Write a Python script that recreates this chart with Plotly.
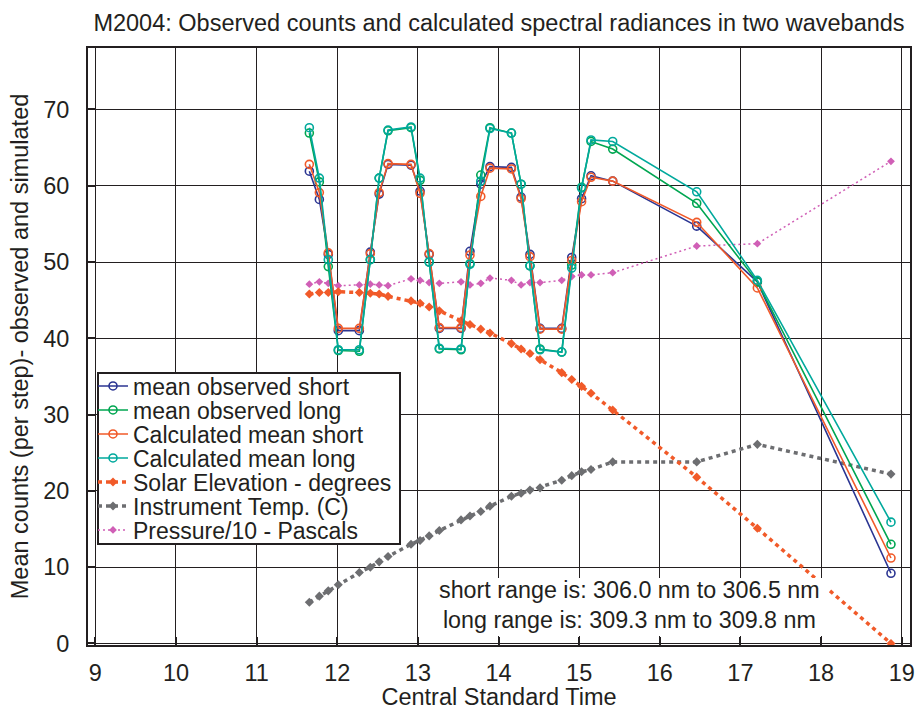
import plotly.graph_objects as go

# ---- data ----
time_h = [11.654, 11.778, 11.889, 12.013, 12.274, 12.41, 12.52, 12.63, 12.915, 13.027,
          13.14, 13.266, 13.535, 13.646, 13.78, 13.894, 14.16, 14.28, 14.39, 14.515,
          14.784, 14.908, 15.03, 15.147, 15.416, 16.458, 17.21, 18.867]

obs_short = [61.9, 58.2, 51.0, 41.0, 41.0, 51.3, 58.9, 62.8, 62.7, 59.3,
             51.0, 41.3, 41.3, 51.4, 60.2, 62.5, 62.4, 58.5, 51.0, 41.3,
             41.3, 50.6, 58.3, 61.3, 60.6, 54.7, 47.4, 9.2]
obs_long = [66.9, 60.5, 49.4, 38.4, 38.3, 50.3, 61.0, 67.2, 67.6, 60.7,
            50.0, 38.6, 38.5, 49.8, 61.4, 67.6, 66.9, 60.2, 49.5, 38.6,
            38.2, 49.6, 59.8, 65.8, 64.8, 57.7, 47.4, 13.0]
calc_short = [62.8, 59.1, 51.2, 41.3, 41.3, 51.1, 59.1, 62.9, 62.8, 59.0,
              51.1, 41.4, 41.4, 50.9, 58.6, 62.3, 62.2, 58.3, 50.7, 41.2,
              41.2, 50.2, 57.9, 61.1, 60.6, 55.2, 46.6, 11.2]
calc_long = [67.6, 61.0, 50.3, 38.5, 38.5, 50.3, 61.0, 67.3, 67.7, 61.0,
             50.0, 38.7, 38.6, 49.7, 60.6, 67.5, 66.9, 60.2, 49.5, 38.5,
             38.2, 49.2, 59.7, 66.0, 65.8, 59.2, 47.6, 15.9]
solar_elev = [45.8, 46.0, 46.0, 46.1, 46.0, 45.9, 45.8, 45.5, 44.9, 44.6,
              44.1, 43.6, 42.3, 41.8, 41.2, 40.7, 39.3, 38.6, 38.0, 37.2,
              35.5, 34.6, 33.7, 32.8, 30.6, 21.8, 15.1, 0.0]
instr_temp = [5.4, 6.2, 6.9, 7.7, 9.3, 10.0, 10.7, 11.4, 13.0, 13.5,
              14.1, 14.8, 16.2, 16.7, 17.3, 18.0, 19.3, 19.7, 20.1, 20.4,
              21.4, 22.0, 22.5, 22.8, 23.8, 23.8, 26.1, 22.2]
pressure10 = [47.1, 47.4, 47.2, 46.9, 47.0, 47.1, 47.0, 46.9, 47.8, 47.6,
              47.3, 47.2, 47.4, 47.0, 47.2, 47.9, 47.6, 47.0, 47.3, 47.3,
              47.6, 48.1, 48.3, 48.3, 48.6, 52.1, 52.4, 63.2]

series_names = ["mean observed short", "mean observed long", "Calculated mean short",
                "Calculated mean long", "Solar Elevation - degrees",
                "Instrument Temp. (C)", "Pressure/10 - Pascals"]
title_text = "M2004: Observed counts and calculated spectral radiances in two wavebands"
x_title = "Central Standard Time"
y_title = "Mean counts (per step)- observed and simulated"
note_lines = ["short range is: 306.0 nm to 306.5 nm", "long range is: 309.3 nm to 309.8 nm"]

# ---- styling ----
FONT = "Liberation Sans, Arial, sans-serif"
INK = "#231f20"
FS = 23.5
FS_LEG = 23
FS_NOTE = 23.3
C_BLUE = "#2b3592"
C_GREEN = "#00a651"
C_ORANGE = "#f15a29"
C_TEAL = "#00a99d"
C_GRAY = "#6d6e71"
C_PINK = "#d05fb6"

fig = go.Figure()

def circ_trace(y, name, color, leg):
    return go.Scatter(x=time_h, y=y, name=name, mode="lines+markers",
                      line=dict(color=color, width=1.6),
                      marker=dict(symbol="circle-open", size=8, color=color, line=dict(width=1.6, color=color)),
                      legend=leg)

fig.add_trace(go.Scatter(x=time_h, y=pressure10, name=series_names[6], mode="lines+markers",
                         line=dict(color=C_PINK, width=1.5, dash="2px,3px"),
                         marker=dict(symbol="diamond", size=6, color=C_PINK), legend="legend7"))
fig.add_trace(go.Scatter(x=time_h, y=instr_temp, name=series_names[5], mode="lines+markers",
                         line=dict(color=C_GRAY, width=3.5, dash="4px,4px"),
                         marker=dict(symbol="diamond", size=7, color=C_GRAY), legend="legend6"))
fig.add_trace(go.Scatter(x=time_h, y=solar_elev, name=series_names[4], mode="lines+markers",
                         line=dict(color=C_ORANGE, width=3.5, dash="4px,4px"),
                         marker=dict(symbol="diamond", size=7, color=C_ORANGE), legend="legend5"))
fig.add_trace(circ_trace(obs_short, series_names[0], C_BLUE, "legend"))
fig.add_trace(circ_trace(obs_long, series_names[1], C_GREEN, "legend2"))
fig.add_trace(circ_trace(calc_short, series_names[2], C_ORANGE, "legend3"))
fig.add_trace(circ_trace(calc_long, series_names[3], C_TEAL, "legend4"))

# plot area in pixels: x 88..910, y 48..645
L, R, T, B = 88, 910, 48, 645
W, H = R - L, B - T
def px(xp):
    return (xp - L) / W
def py(yp):
    return (B - yp) / H

row_y = [386, 410, 434, 458, 482, 506, 530]
legend_keys = ["legend", "legend2", "legend3", "legend4", "legend5", "legend6", "legend7"]
layout_legends = {}
for k, yy in zip(legend_keys, row_y):
    layout_legends[k] = dict(x=px(93), y=py(yy), xanchor="left", yanchor="middle",
                             bgcolor="rgba(0,0,0,0)", borderwidth=0,
                             font=dict(family=FONT, size=FS_LEG, color=INK))

axis_common = dict(showgrid=True, gridcolor=INK, gridwidth=1.3, showline=True, mirror=True,
                   linecolor=INK, linewidth=2, ticks="inside", ticklen=8, tickwidth=1.5,
                   tickcolor=INK, zeroline=False, automargin=False,
                   tickfont=dict(family=FONT, size=FS, color=INK))

fig.update_layout(
    width=918, height=710,
    margin=dict(l=L, r=918 - R, t=T, b=710 - B, autoexpand=False),
    paper_bgcolor="white", plot_bgcolor="white",
    font=dict(family=FONT, size=FS, color=INK),
    title=dict(text=title_text, x=0.5, xref="paper", xanchor="center",
               y=1 - 23 / 710, yanchor="middle", font=dict(family=FONT, size=FS, color=INK)),
    xaxis=dict(range=[8.909, 19.103], dtick=1, tick0=0, ticklabelstandoff=6,
               title=dict(text=x_title, standoff=10,
                          font=dict(family=FONT, size=FS, color=INK)), **axis_common),
    yaxis=dict(range=[-0.2, 78.05], dtick=10, tick0=0, ticklabelstandoff=12,
               title=dict(text=y_title, standoff=8,
                          font=dict(family=FONT, size=FS, color=INK)), **axis_common),
    showlegend=True,
    **layout_legends,
    shapes=[
        dict(type="rect", xref="paper", yref="paper", x0=px(98), x1=px(400), y0=py(544), y1=py(373),
             line=dict(color=INK, width=2), fillcolor="white", layer="above"),
        dict(type="rect", xref="paper", yref="paper", x0=px(426), x1=px(828), y0=py(636), y1=py(578),
             line=dict(width=0), fillcolor="white", layer="above"),
    ],
    annotations=[
        dict(text=note_lines[0] + "<br>" + note_lines[1], xref="paper", yref="paper",
             x=px(629), y=py(605), xanchor="center", yanchor="middle", align="center",
             showarrow=False, font=dict(family=FONT, size=FS_NOTE, color=INK)),
    ],
)

fig.write_html("out.html")
